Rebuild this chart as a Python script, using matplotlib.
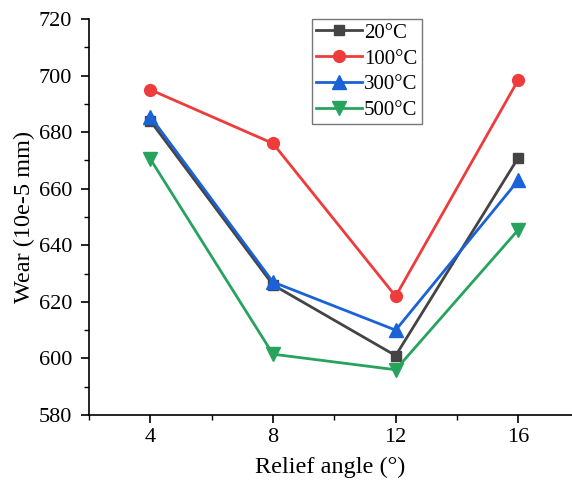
import matplotlib
matplotlib.use("Agg")
import matplotlib.pyplot as plt
from matplotlib.ticker import MultipleLocator

angles = [4, 8, 12, 16]
wear_20 = [684, 626, 601, 671]
wear_100 = [695, 676, 622, 698.5]
wear_300 = [685.5, 627, 610, 663]
wear_500 = [670.5, 601.5, 596, 645.5]
labels = ["20°C", "100°C", "300°C", "500°C"]

plt.rcParams['font.family'] = ['Liberation Serif', 'DejaVu Serif']

fig = plt.figure(figsize=(5.72, 4.92), dpi=100)
ax = fig.add_axes([89/572, 1 - 415/492, (572 - 89)/572, (415 - 19)/492])

series = [
    (wear_20, "#444444", "s", 7.5),
    (wear_100, "#EE3B3B", "o", 8.5),
    (wear_300, "#1A62D8", "^", 9.5),
    (wear_500, "#27A35E", "v", 9.5),
]
for (vals, c, m, ms), lab in zip(series, labels):
    ax.plot(angles, vals, color=c, marker=m, markersize=ms, linewidth=2.0, label=lab)

ax.set_xlim(2, 17.75)
ax.set_ylim(580, 720)
ax.set_xticks(angles)
ax.yaxis.set_major_locator(MultipleLocator(20))
ax.yaxis.set_minor_locator(MultipleLocator(10))
ax.xaxis.set_minor_locator(MultipleLocator(2))
ax.spines['top'].set_visible(False)
ax.spines['right'].set_visible(False)
for s in ['left', 'bottom']:
    ax.spines[s].set_linewidth(1.2)
ax.tick_params(which='major', direction='out', length=6, width=1.2, labelsize=16)
ax.tick_params(axis='y', which='major', pad=6)
ax.tick_params(which='minor', direction='out', length=3.5, width=1.0)
ax.set_xlabel("Relief angle (°)", fontsize=17.5, labelpad=7)
ax.set_ylabel("Wear (10e-5 mm)", fontsize=17.5, labelpad=3)

leg = ax.legend(loc='upper left', bbox_to_anchor=((312 - 89) / 483, 1.0), fontsize=15,
                frameon=True, fancybox=False, edgecolor='#555555', handlelength=2.2,
                handletextpad=0.1, borderpad=0.2, borderaxespad=0, labelspacing=0.3)
leg.get_frame().set_linewidth(1.0)

fig.savefig("out.png", dpi=100)
